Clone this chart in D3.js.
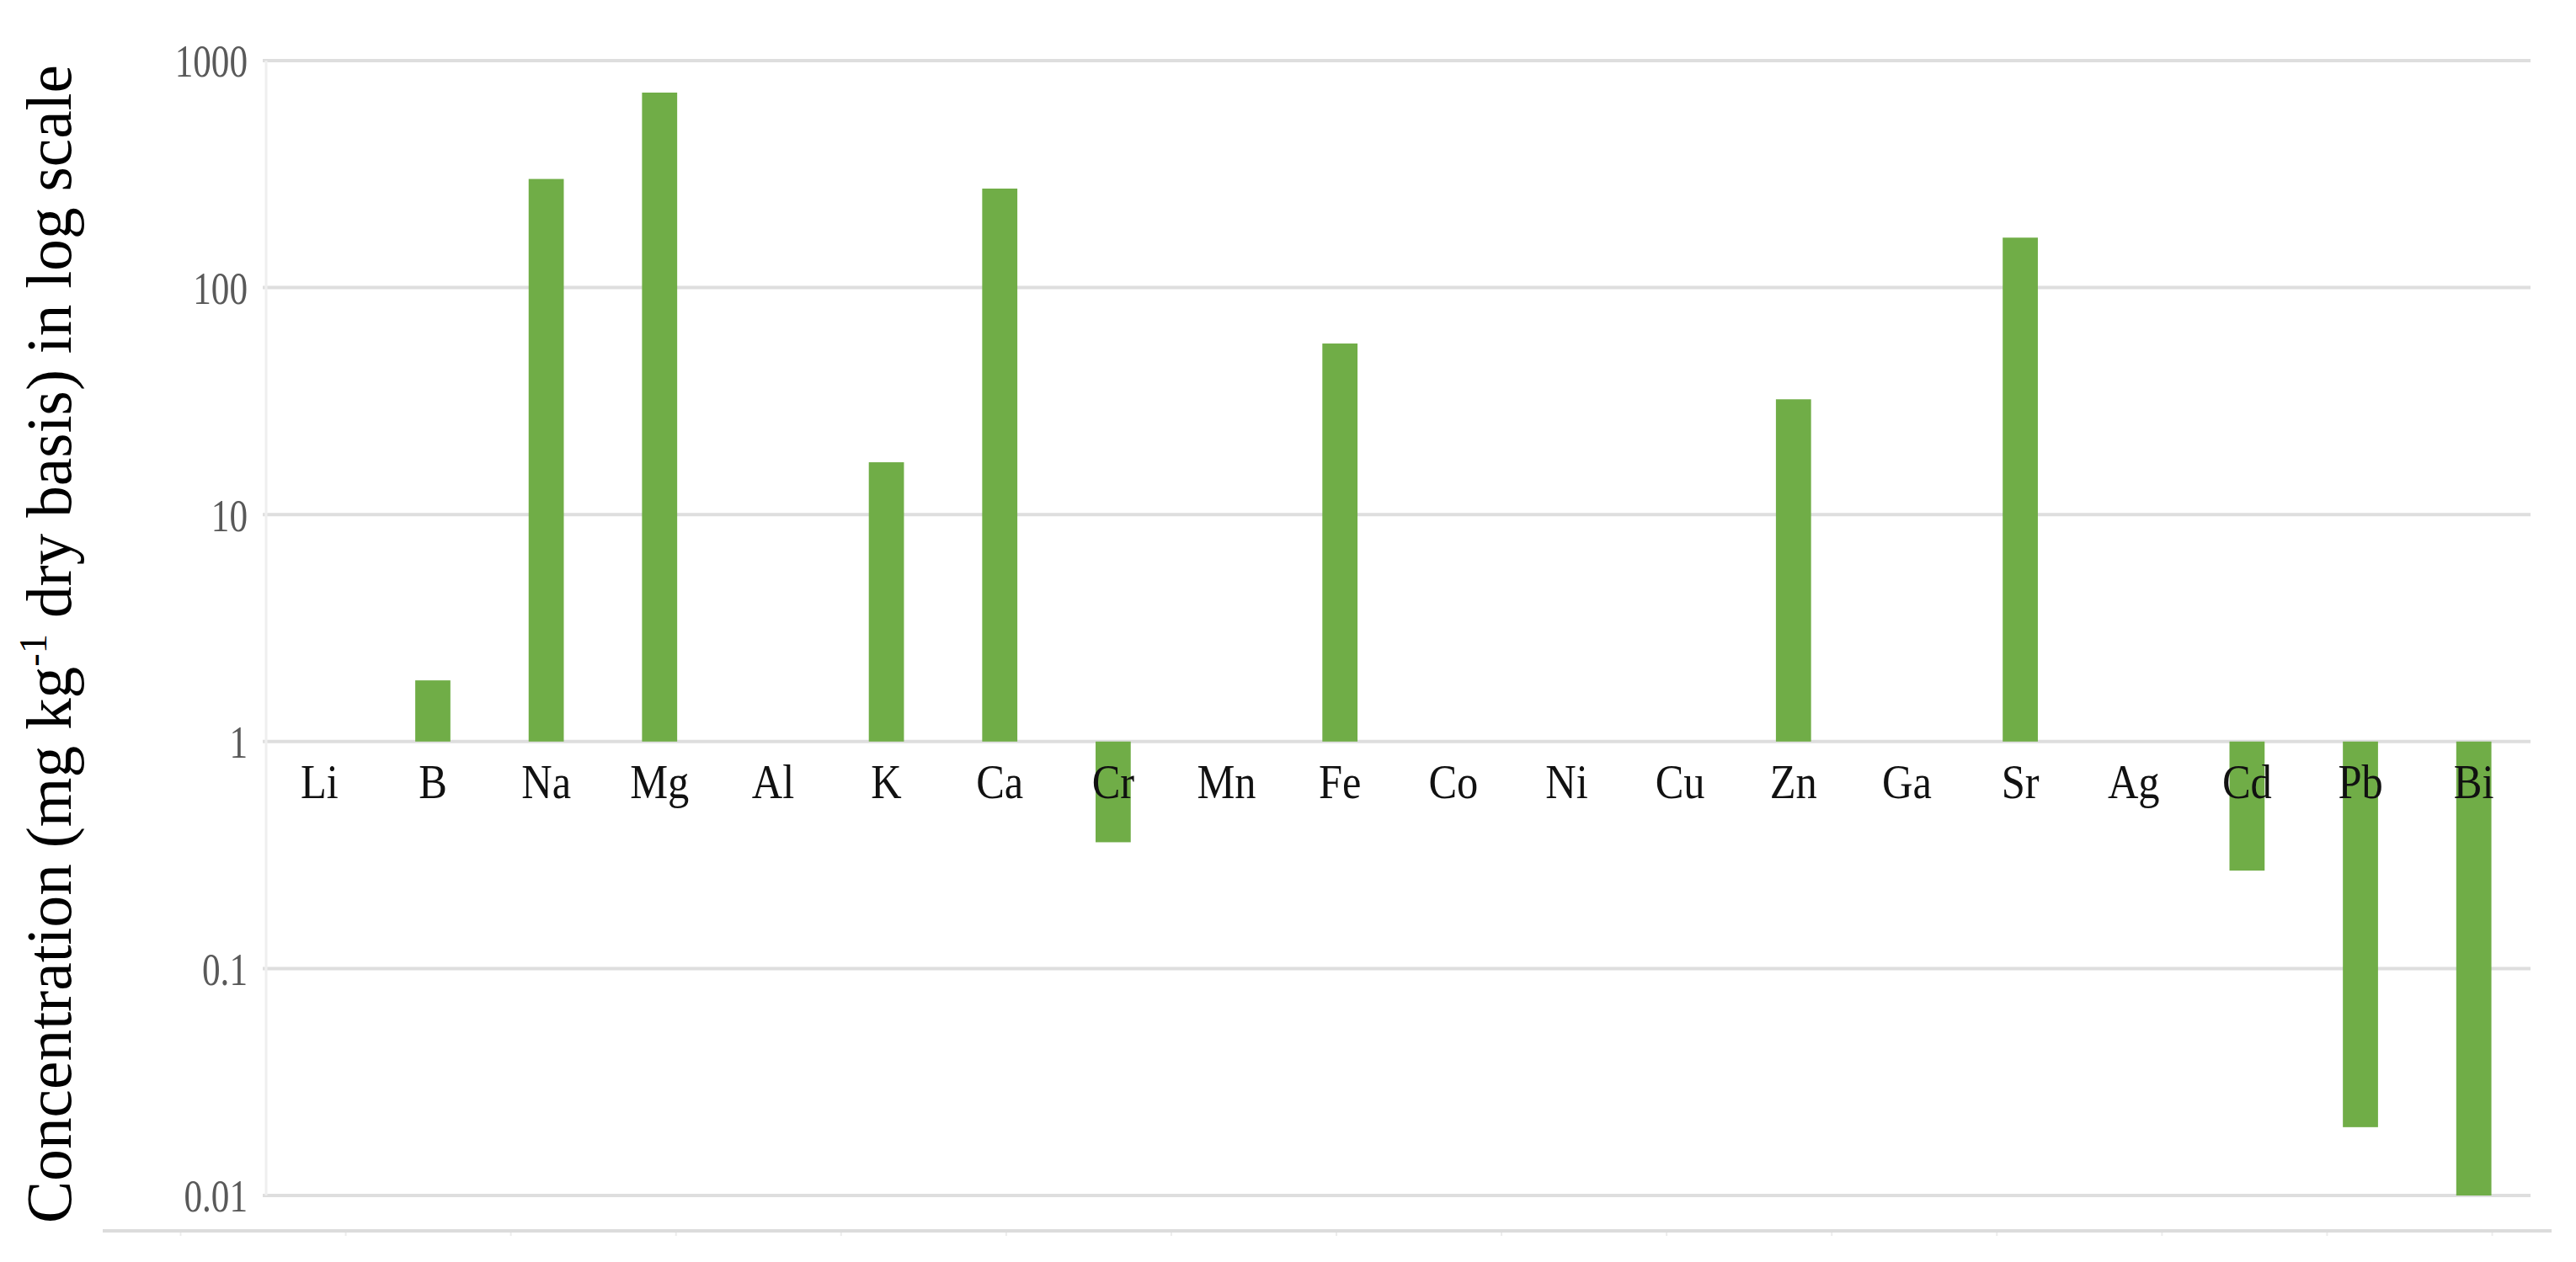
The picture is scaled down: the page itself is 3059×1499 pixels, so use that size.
<!DOCTYPE html>
<html>
<head>
<meta charset="utf-8">
<script src="https://cdn.jsdelivr.net/npm/d3@7"></script>
<style>
  body { margin: 0; background: #fff; }
  text { font-family: "Liberation Serif", "DejaVu Serif", serif; }
</style>
</head>
<body>
<script>
// data
var elements = ["Li","B","Na","Mg","Al","K","Ca","Cr","Mn","Fe","Co","Ni","Cu","Zn","Ga","Sr","Ag","Cd","Pb","Bi"];
var concentration = [null,1.86,301,723,null,17.0,273,0.36,null,56.7,null,null,null,32.2,null,166,null,0.27,0.020,0.010];
var yTicks = [1000,100,10,1,0.1,0.01];
var yTickLabels = ["1000","100","10","1","0.1","0.01"];
var yTitle = "Concentration (mg kg";
var yTitleSup = "-1";
var yTitleTail = " dry basis) in log scale";

var W = 3059, H = 1499;
var svg = d3.select("body").append("svg")
    .attr("width", W)
    .attr("height", H);

// scales
var x = d3.scaleBand()
    .domain(elements)
    .range([312, 3005])
    .paddingInner(0.69)
    .paddingOuter(0.345);
var y = d3.scaleLog()
    .domain([0.01, 1000])
    .range([1420, 72]);

// gridlines
svg.append("g")
    .selectAll("line")
    .data(yTicks)
    .enter().append("line")
    .attr("x1", 312)
    .attr("x2", 3005)
    .attr("y1", function(d){ return y(d); })
    .attr("y2", function(d){ return y(d); })
    .attr("stroke", "#dedede")
    .attr("stroke-width", 4);

// faint left edge
svg.append("line")
    .attr("x1", 316).attr("x2", 316)
    .attr("y1", y(1000)).attr("y2", y(0.01))
    .attr("stroke", "#efefef")
    .attr("stroke-width", 3);

// y tick labels
svg.append("g")
    .selectAll("text")
    .data(yTicks)
    .enter().append("text")
    .attr("transform", function(d){ return "translate(294," + y(d) + ") scale(0.8,1)"; })
    .attr("dy", "0.36em")
    .attr("text-anchor", "end")
    .attr("font-size", 54)
    .attr("fill", "#595959")
    .text(function(d, i){ return yTickLabels[i]; });

// bars grow up or down from 1
var barData = elements.map(function(e, i){ return {name: e, v: concentration[i]}; })
    .filter(function(d){ return d.v != null; });
svg.append("g")
    .selectAll("rect")
    .data(barData)
    .enter().append("rect")
    .attr("x", function(d){ return x(d.name); })
    .attr("width", x.bandwidth())
    .attr("y", function(d){ return y(Math.max(d.v, 1)); })
    .attr("height", function(d){ return Math.abs(y(d.v) - y(1)); })
    .attr("fill", "#70ad47");

// category labels, drawn over the bars
svg.append("g")
    .selectAll("text")
    .data(elements)
    .enter().append("text")
    .attr("transform", function(d){ return "translate(" + (x(d) + x.bandwidth() / 2) + ",948) scale(0.87,1)"; })
    .attr("text-anchor", "middle")
    .attr("font-size", 58)
    .attr("fill", "#111")
    .text(function(d){ return d; });

// stray bottom line with faint ticks
var ghost = d3.scaleLinear().domain([0, 14]).range([214, 2959]);
var gAx = svg.append("g")
    .attr("transform", "translate(0,1462)")
    .call(d3.axisBottom(ghost).ticks(14).tickSize(6).tickFormat(""));
gAx.select(".domain").remove();
gAx.selectAll("line").attr("stroke", "#ececec").attr("stroke-width", 2);
svg.append("line")
    .attr("x1", 122).attr("x2", 3030)
    .attr("y1", 1462).attr("y2", 1462)
    .attr("stroke", "#dcdcdc")
    .attr("stroke-width", 4);

// y title
var title = svg.append("text")
    .attr("transform", "translate(84,765) rotate(-90)")
    .attr("text-anchor", "middle")
    .attr("font-size", 76)
    .attr("fill", "#000")
    .attr("textLength", 1376)
    .attr("lengthAdjust", "spacingAndGlyphs");
title.append("tspan").text(yTitle);
title.append("tspan").attr("font-size", 47).attr("dy", -29).text(yTitleSup);
title.append("tspan").attr("dy", 29).text(yTitleTail);
</script>
</body>
</html>
